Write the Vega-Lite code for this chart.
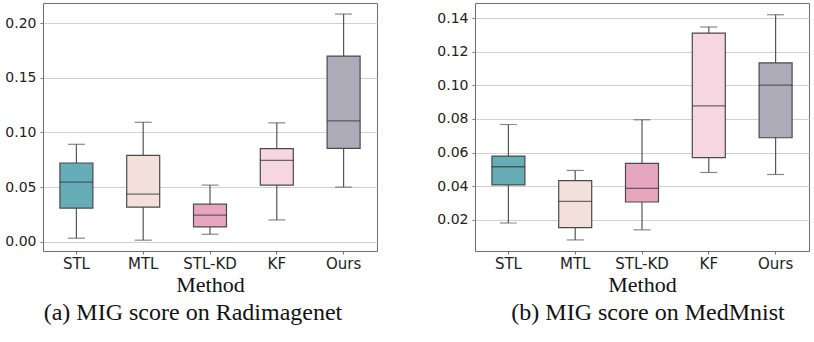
{
  "$schema": "https://vega.github.io/schema/vega-lite/v6.json",
  "padding": {"left": 4, "top": 2, "right": 4, "bottom": 2},
  "background": "white",
  "datasets": {
    "radimagenet": [
      {"method": "STL", "lo": 0.0034, "q1": 0.0309, "med": 0.0547, "q3": 0.0721, "hi": 0.0892},
      {"method": "MTL", "lo": 0.0016, "q1": 0.0318, "med": 0.0437, "q3": 0.0790, "hi": 0.1093},
      {"method": "STL-KD", "lo": 0.0070, "q1": 0.0137, "med": 0.0244, "q3": 0.0345, "hi": 0.0519},
      {"method": "KF", "lo": 0.0201, "q1": 0.0519, "med": 0.0745, "q3": 0.0853, "hi": 0.1088},
      {"method": "Ours", "lo": 0.0501, "q1": 0.0855, "med": 0.1106, "q3": 0.1698, "hi": 0.2082}
    ],
    "medmnist": [
      {"method": "STL", "lo": 0.0180, "q1": 0.0407, "med": 0.0515, "q3": 0.0579, "hi": 0.0767},
      {"method": "MTL", "lo": 0.0079, "q1": 0.0152, "med": 0.0309, "q3": 0.0432, "hi": 0.0493},
      {"method": "STL-KD", "lo": 0.0139, "q1": 0.0305, "med": 0.0386, "q3": 0.0535, "hi": 0.0795},
      {"method": "KF", "lo": 0.0481, "q1": 0.0569, "med": 0.0878, "q3": 0.1312, "hi": 0.1348},
      {"method": "Ours", "lo": 0.0469, "q1": 0.0688, "med": 0.1001, "q3": 0.1134, "hi": 0.1421}
    ]
  },
  "config": {
    "view": {"stroke": "#6e6e6e", "strokeWidth": 1},
    "axis": {
      "labelFont": "DejaVu Sans", "labelFontSize": 14, "labelColor": "#222",
      "titleFont": "Liberation Serif", "titleFontSize": 22, "titleFontWeight": "normal", "titleColor": "#111",
      "tickSize": 3, "tickColor": "#777", "domain": false, "gridColor": "#d0d0d0"
    },
    "axisX": {"labelFontSize": 15},
    "title": {"font": "Liberation Serif", "fontSize": 24, "fontWeight": "normal", "color": "#111"}
  },
  "spacing": 58,
  "hconcat": [
    {
      "width": 334, "height": 248,
      "title": {"text": "(a) MIG score on Radimagenet", "orient": "bottom", "offset": 6, "dx": -17},
      "data": {"name": "radimagenet"},
      "encoding": {
        "x": {"field": "method", "type": "nominal", "sort": ["STL", "MTL", "STL-KD", "KF", "Ours"],
              "scale": {"paddingInner": 0, "paddingOuter": 0},
              "axis": {"title": "Method", "labelAngle": 0, "labelPadding": 2, "titlePadding": 3, "grid": false}}
      },
      "layer": [
        {"mark": {"type": "rule", "color": "#555", "strokeWidth": 1.2},
         "encoding": {"y": {"field": "lo", "type": "quantitative",
                            "scale": {"domain": [-0.0083, 0.2183], "nice": false, "zero": false},
                            "axis": {"title": null, "values": [0, 0.05, 0.1, 0.15, 0.2], "format": ".2f", "labelPadding": 4, "grid": true}},
                      "y2": {"field": "hi"}}},
        {"mark": {"type": "tick", "color": "#555", "size": 17, "thickness": 1.2}, "encoding": {"y": {"field": "lo", "type": "quantitative"}}},
        {"mark": {"type": "tick", "color": "#555", "size": 17, "thickness": 1.2}, "encoding": {"y": {"field": "hi", "type": "quantitative"}}},
        {"mark": {"type": "bar", "size": 33, "stroke": "#4a4a4a", "strokeWidth": 1.2},
         "encoding": {"y": {"field": "q1", "type": "quantitative"}, "y2": {"field": "q3"},
                      "color": {"field": "method", "type": "nominal", "legend": null,
                                "scale": {"domain": ["STL", "MTL", "STL-KD", "KF", "Ours"], "range": ["#66adb7", "#f4e0da", "#e6a6bd", "#f5d6e1", "#aeabb9"]}}}},
        {"mark": {"type": "tick", "color": "#333", "size": 33, "thickness": 1.3}, "encoding": {"y": {"field": "med", "type": "quantitative"}}}
      ]
    },
    {
      "width": 334, "height": 248,
      "title": {"text": "(b) MIG score on MedMnist", "orient": "bottom", "offset": 6, "dx": 6},
      "data": {"name": "medmnist"},
      "encoding": {
        "x": {"field": "method", "type": "nominal", "sort": ["STL", "MTL", "STL-KD", "KF", "Ours"],
              "scale": {"paddingInner": 0, "paddingOuter": 0},
              "axis": {"title": "Method", "labelAngle": 0, "labelPadding": 2, "titlePadding": 3, "grid": false}}
      },
      "layer": [
        {"mark": {"type": "rule", "color": "#555", "strokeWidth": 1.2},
         "encoding": {"y": {"field": "lo", "type": "quantitative",
                            "scale": {"domain": [0.0013, 0.1491], "nice": false, "zero": false},
                            "axis": {"title": null, "values": [0.02, 0.04, 0.06, 0.08, 0.1, 0.12, 0.14], "format": ".2f", "labelPadding": 4, "grid": true}},
                      "y2": {"field": "hi"}}},
        {"mark": {"type": "tick", "color": "#555", "size": 17, "thickness": 1.2}, "encoding": {"y": {"field": "lo", "type": "quantitative"}}},
        {"mark": {"type": "tick", "color": "#555", "size": 17, "thickness": 1.2}, "encoding": {"y": {"field": "hi", "type": "quantitative"}}},
        {"mark": {"type": "bar", "size": 33, "stroke": "#4a4a4a", "strokeWidth": 1.2},
         "encoding": {"y": {"field": "q1", "type": "quantitative"}, "y2": {"field": "q3"},
                      "color": {"field": "method", "type": "nominal", "legend": null,
                                "scale": {"domain": ["STL", "MTL", "STL-KD", "KF", "Ours"], "range": ["#66adb7", "#f4e0da", "#e6a6bd", "#f5d6e1", "#aeabb9"]}}}},
        {"mark": {"type": "tick", "color": "#333", "size": 33, "thickness": 1.3}, "encoding": {"y": {"field": "med", "type": "quantitative"}}}
      ]
    }
  ]
}
